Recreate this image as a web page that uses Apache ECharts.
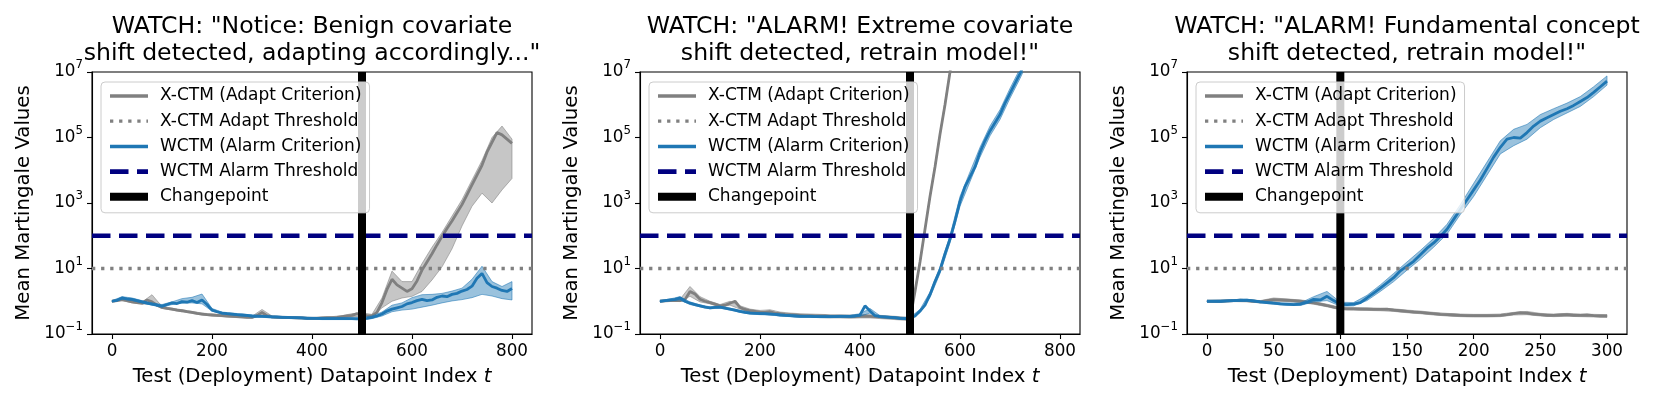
<!DOCTYPE html>
<html>
<head>
<meta charset="utf-8">
<title>WATCH martingale panels</title>
<script src="https://cdn.jsdelivr.net/npm/echarts@6/dist/echarts.min.js"></script>
<style>
  html, body { margin: 0; padding: 0; background: #fff; }
  #chart { width: 1660px; height: 405px; }
</style>
</head>
<body>
<div id="chart"></div>
<script>
// all y values are log10 of the mean martingale (axis labelled 10^k)

// test datapoint index t
const tFine800 = [0,10,20,30,40,50,60,70,80,90,100,110,120,130,140,150,160,170,180,190,200,210,220,230,240,250,260,270,280,290,300,310,320,330,340,350,360,370,380,390,400,410,420,430,440,450,460,470,480,490,500,510,520,530,540,550,560,570,580,590,600,610,620,630,640,650,660,670,680,690,700,710,720,730,740,750,760,770,780,790,800]
const tCoarse800 = [0,20,40,60,80,100,120,140,160,180,200,220,240,260,280,300,320,340,360,380,400,420,440,460,480,500,520,540,560,580,600,620,640,660,680,700,720,740,760,780,800]
const tFine300 = [0,5,10,15,20,25,30,35,40,45,50,55,60,65,70,75,80,85,90,95,100,105,110,115,120,125,130,135,140,145,150,155,160,165,170,175,180,185,190,195,200,205,210,215,220,225,230,235,240,245,250,255,260,265,270,275,280,285,290,295,300]
const tCoarse300 = [0,10,20,30,40,50,60,70,80,90,100,110,120,130,140,150,160,170,180,190,200,210,220,230,240,250,260,270,280,290,300]

const xTicks800 = [0, 200, 400, 600, 800]
const xTicks300 = [0, 50, 100, 150, 200, 250, 300]
const yTicks = [-1, 1, 3, 5, 7]

const adaptThreshold = 1 // 10^1
const alarmThreshold = 2 // 10^2
const changepoints = [500, 500, 100]

// panel 1: benign covariate shift
const p1Xctm = [0.00,0.02,0.05,0.02,-0.02,-0.04,-0.06,0.04,-0.02,-0.12,
  -0.19,-0.22,-0.24,-0.27,-0.29,-0.32,-0.34,-0.37,-0.39,-0.41,
  -0.42,-0.43,-0.44,-0.45,-0.46,-0.47,-0.48,-0.49,-0.49,-0.44,
  -0.34,-0.44,-0.48,-0.49,-0.49,-0.50,-0.50,-0.51,-0.51,-0.52,
  -0.52,-0.52,-0.51,-0.50,-0.50,-0.49,-0.47,-0.45,-0.43,-0.38,
  -0.42,-0.44,-0.45,-0.34,-0.04,0.36,0.67,0.50,0.40,0.30,
  0.38,0.62,0.95,1.20,1.45,1.72,1.98,2.22,2.45,2.70,
  2.95,3.25,3.55,3.85,4.15,4.55,4.85,5.15,5.08,4.95,
  4.82]
const p1XctmLo = [-0.02,0.02,-0.05,-0.09,-0.08,-0.22,-0.27,-0.32,-0.37,-0.42,
  -0.45,-0.47,-0.49,-0.51,-0.52,-0.40,-0.51,-0.52,-0.53,-0.54,
  -0.55,-0.54,-0.53,-0.50,-0.47,-0.46,-0.48,-0.20,0.00,0.10,
  0.15,0.30,0.65,1.05,1.60,2.30,2.90,3.30,3.00,3.40,3.75]
const p1XctmHi = [0.02,0.08,0.02,-0.03,0.20,-0.16,-0.21,-0.26,-0.31,-0.36,
  -0.39,-0.41,-0.43,-0.45,-0.46,-0.25,-0.45,-0.46,-0.47,-0.48,
  -0.49,-0.48,-0.47,-0.44,-0.38,-0.36,-0.40,0.10,0.92,0.60,
  0.60,1.15,1.65,2.10,2.60,3.10,3.70,4.30,5.00,5.35,4.95]
const p1Wctm = [0.00,0.03,0.10,0.07,0.06,0.02,-0.02,-0.06,-0.09,-0.12,
  -0.15,-0.10,-0.05,-0.07,-0.01,-0.03,0.02,-0.04,0.04,-0.10,
  -0.27,-0.32,-0.36,-0.38,-0.39,-0.41,-0.42,-0.43,-0.45,-0.46,
  -0.46,-0.47,-0.48,-0.48,-0.49,-0.49,-0.50,-0.50,-0.51,-0.52,
  -0.52,-0.52,-0.53,-0.53,-0.53,-0.53,-0.53,-0.53,-0.53,-0.54,
  -0.53,-0.52,-0.49,-0.45,-0.39,-0.30,-0.24,-0.20,-0.16,-0.08,
  -0.04,0.02,0.06,0.02,0.04,0.12,0.16,0.14,0.21,0.24,
  0.31,0.36,0.46,0.70,0.85,0.57,0.45,0.40,0.33,0.30,
  0.39]
const p1WctmLo = [-0.02,0.06,0.02,-0.05,-0.12,-0.18,-0.10,-0.06,-0.05,-0.08,
  -0.30,-0.39,-0.42,-0.45,-0.48,-0.49,-0.51,-0.52,-0.53,-0.54,
  -0.55,-0.56,-0.56,-0.56,-0.56,-0.56,-0.53,-0.45,-0.32,-0.27,
  -0.24,-0.18,-0.12,-0.05,0.01,0.05,0.11,0.21,0.16,0.08,0.04]
const p1WctmHi = [0.02,0.14,0.10,0.02,-0.05,-0.10,-0.02,0.08,0.12,0.22,
  -0.22,-0.33,-0.36,-0.39,-0.42,-0.43,-0.45,-0.46,-0.47,-0.48,
  -0.49,-0.50,-0.50,-0.50,-0.50,-0.50,-0.45,-0.33,-0.12,-0.05,
  0.11,0.20,0.21,0.24,0.31,0.40,0.67,1.07,0.60,0.45,0.60]

// panel 2: extreme covariate shift
const p2Xctm = [0.00,0.01,0.02,0.03,0.02,0.05,0.30,0.22,0.06,0.00,
  -0.04,-0.09,-0.14,-0.12,-0.06,0.00,-0.19,-0.25,-0.29,-0.31,
  -0.33,-0.34,-0.32,-0.36,-0.38,-0.40,-0.41,-0.42,-0.43,-0.44,
  -0.44,-0.45,-0.45,-0.45,-0.46,-0.46,-0.46,-0.46,-0.47,-0.47,
  -0.46,-0.45,-0.46,-0.47,-0.48,-0.49,-0.50,-0.51,-0.52,-0.53,
  -0.55,0.30,1.20,2.20,3.20,4.10,5.10,6.00,7.00,8.00,
  null,null,null,null,null,null,null,null,null,null,
  null,null,null,null,null,null,null,null,null,null,
  null]
const p2XctmLo = [-0.02,0.00,-0.01,0.15,-0.02,-0.08,-0.18,-0.12,-0.24,-0.34,
  -0.38,-0.38,-0.43,-0.46,-0.48,-0.49,-0.50,-0.51,-0.51,-0.52,
  -0.51,-0.51,-0.53,-0.55,-0.57,-0.59,1.15,3.15,5.05,6.95,
  null,null,null,null,null,null,null,null,null,null,null]
const p2XctmHi = [0.02,0.05,0.06,0.45,0.14,0.00,-0.10,0.00,-0.14,-0.24,
  -0.28,-0.26,-0.33,-0.36,-0.38,-0.39,-0.40,-0.41,-0.41,-0.42,
  -0.41,-0.41,-0.43,-0.45,-0.47,-0.50,1.25,3.25,5.15,7.05,
  null,null,null,null,null,null,null,null,null,null,null]
const p2Wctm = [0.00,0.02,0.04,0.06,0.10,0.00,-0.06,-0.10,-0.14,-0.18,
  -0.20,-0.19,-0.18,-0.21,-0.24,-0.27,-0.31,-0.34,-0.36,-0.37,
  -0.38,-0.38,-0.39,-0.40,-0.42,-0.43,-0.44,-0.45,-0.46,-0.46,
  -0.46,-0.47,-0.47,-0.47,-0.47,-0.47,-0.46,-0.46,-0.46,-0.45,
  -0.42,-0.14,-0.30,-0.44,-0.47,-0.48,-0.49,-0.50,-0.52,-0.53,
  -0.52,-0.45,-0.30,-0.12,0.20,0.60,0.95,1.45,1.90,2.45,
  3.05,3.50,3.80,4.10,4.55,4.90,5.20,5.45,5.70,6.05,
  6.35,6.65,6.95,7.30,7.60,null,null,null,null,null,
  null]
const p2WctmLo = [-0.02,0.01,0.04,-0.10,-0.17,-0.23,-0.21,-0.27,-0.34,-0.39,
  -0.41,-0.42,-0.45,-0.47,-0.49,-0.49,-0.50,-0.50,-0.49,-0.49,
  -0.46,-0.36,-0.50,-0.52,-0.55,-0.55,-0.35,0.12,0.85,1.78,
  2.90,3.65,4.40,5.05,5.55,6.20,6.80,7.45,null,null,null]
const p2WctmHi = [0.02,0.07,0.14,-0.02,-0.11,-0.17,-0.15,-0.21,-0.28,-0.33,
  -0.35,-0.36,-0.39,-0.41,-0.43,-0.43,-0.44,-0.44,-0.43,-0.43,
  -0.38,-0.22,-0.44,-0.46,-0.49,-0.49,-0.25,0.28,1.05,2.00,
  3.20,3.95,4.70,5.35,5.85,6.50,7.10,7.75,null,null,null]

// panel 3: fundamental concept shift
const p3Xctm = [0.00,0.00,0.00,0.01,0.02,0.03,0.02,0.00,-0.02,0.02,
  0.05,0.04,0.03,0.02,0.00,-0.03,-0.05,-0.09,-0.13,-0.18,
  -0.22,-0.23,-0.23,-0.24,-0.24,-0.25,-0.25,-0.24,-0.27,-0.29,
  -0.31,-0.33,-0.34,-0.36,-0.38,-0.40,-0.41,-0.42,-0.43,-0.44,
  -0.44,-0.44,-0.44,-0.44,-0.43,-0.41,-0.38,-0.35,-0.36,-0.39,
  -0.41,-0.43,-0.43,-0.42,-0.41,-0.43,-0.43,-0.42,-0.44,-0.45,
  -0.45]
const p3XctmLo = [-0.02,-0.03,-0.01,-0.02,-0.05,0.00,-0.01,-0.04,-0.09,-0.17,
  -0.26,-0.27,-0.28,-0.29,-0.31,-0.35,-0.38,-0.42,-0.45,-0.47,
  -0.48,-0.48,-0.47,-0.42,-0.41,-0.45,-0.47,-0.46,-0.47,-0.48,-0.49]
const p3XctmHi = [0.02,0.03,0.05,0.05,0.02,0.10,0.07,0.04,-0.01,-0.09,
  -0.18,-0.19,-0.20,-0.21,-0.23,-0.27,-0.30,-0.34,-0.37,-0.39,
  -0.40,-0.40,-0.39,-0.34,-0.31,-0.37,-0.39,-0.37,-0.39,-0.40,-0.41]
const p3Wctm = [0.00,0.00,0.00,0.01,0.02,0.03,0.03,0.01,-0.02,-0.04,
  -0.06,-0.08,-0.09,-0.10,-0.09,-0.03,0.06,0.04,0.15,0.02,
  -0.09,-0.10,-0.09,-0.04,0.10,0.25,0.40,0.56,0.72,0.93,
  1.07,1.22,1.42,1.62,1.78,1.98,2.20,2.50,2.80,3.10,
  3.40,3.70,4.05,4.40,4.70,4.95,5.00,4.98,5.15,5.35,
  5.50,5.60,5.70,5.80,5.88,5.98,6.10,6.22,6.38,6.55,
  6.72]
const p3WctmLo = [-0.02,-0.03,-0.01,0.00,-0.05,-0.09,-0.13,-0.13,-0.02,0.02,
  -0.15,-0.14,0.02,0.30,0.60,0.95,1.28,1.65,2.05,2.65,
  3.20,3.85,4.50,4.75,4.95,5.30,5.55,5.75,5.95,6.25,6.60]
const p3WctmHi = [0.02,0.03,0.05,0.06,0.01,-0.03,-0.06,-0.05,0.14,0.30,
  -0.03,-0.04,0.18,0.50,0.85,1.20,1.55,1.92,2.35,2.95,
  3.60,4.25,4.90,5.25,5.40,5.70,5.88,6.05,6.25,6.55,6.88]

const titles = [
  'WATCH: "Notice: Benign covariate\nshift detected, adapting accordingly..."',
  'WATCH: "ALARM! Extreme covariate\nshift detected, retrain model!"',
  'WATCH: "ALARM! Fundamental concept\nshift detected, retrain model!"'
]

const FONT = 'DejaVu Sans'
const GRAY = '#808080'
const BLUE = '#1f77b4'
const NAVY = '#000080'
const names = ['X-CTM (Adapt Criterion)', 'X-CTM Adapt Threshold', 'WCTM (Alarm Criterion)', 'WCTM Alarm Threshold', 'Changepoint']
// handle thickness for each legend entry
const legendWidths = [3.5, 3.3, 3.5, 4.7, 8]

const panels = [
  {t: tFine800, tb: tCoarse800, x: p1Xctm, xLo: p1XctmLo, xHi: p1XctmHi, w: p1Wctm, wLo: p1WctmLo, wHi: p1WctmHi, xMin: -40, xMax: 840, ticks: xTicks800, left: 92},
  {t: tFine800, tb: tCoarse800, x: p2Xctm, xLo: p2XctmLo, xHi: p2XctmHi, w: p2Wctm, wLo: p2WctmLo, wHi: p2WctmHi, xMin: -40, xMax: 840, ticks: xTicks800, left: 640},
  {t: tFine300, tb: tCoarse300, x: p3Xctm, xLo: p3XctmLo, xHi: p3XctmHi, w: p3Wctm, wLo: p3WctmLo, wHi: p3WctmHi, xMin: -15, xMax: 315, ticks: xTicks300, left: 1187}
]
const PLOT_TOP = 72
const PLOT_W = 440
const PLOT_H = 262

function pairs (ts, vs) {
  const out = []
  ts.forEach((t, i) => { if (vs[i] != null) out.push([t, vs[i]]) })
  return out
}

// shaded min/max band drawn as one polygon through the axis scales
function band (idx, ts, lo, hi, fill, stroke, z) {
  return {
    type: 'custom',
    xAxisIndex: idx,
    yAxisIndex: idx,
    coordinateSystem: 'cartesian2d',
    data: [[ts[0], lo[0]]],
    clip: true,
    silent: true,
    z: z,
    renderItem: function (params, api) {
      const pts = []
      ts.forEach((t, i) => { if (hi[i] != null) pts.push(api.coord([t, hi[i]])) })
      for (let i = ts.length - 1; i >= 0; i--) {
        if (lo[i] != null) pts.push(api.coord([ts[i], lo[i]]))
      }
      return {type: 'polygon', shape: {points: pts}, style: {fill: fill, stroke: stroke, lineWidth: 1}}
    }
  }
}

function supLabel (v) {
  const e = v < 0 ? '\u2212' + (-v) : String(v)
  return '{b|10}{s|' + e + '}'
}

const grid = []
const xAxis = []
const yAxis = []
const series = []
const legend = []
const graphic = []

panels.forEach((p, i) => {
  grid.push({left: p.left, top: PLOT_TOP, width: PLOT_W, height: PLOT_H, show: true, borderColor: '#000', borderWidth: 1.1, backgroundColor: 'transparent'})
  xAxis.push({
    type: 'value', gridIndex: i, min: p.xMin, max: p.xMax,
    splitLine: {show: false},
    axisLine: {show: true, onZero: false, lineStyle: {color: '#000', width: 1.1}},
    axisTick: {show: true, length: 5, customValues: p.ticks, lineStyle: {color: '#000', width: 1.1}},
    axisLabel: {customValues: p.ticks, margin: 9, color: '#000', fontFamily: FONT, fontSize: 16.8},
    name: '{n|Test (Deployment) Datapoint Index }{i|t}',
    nameLocation: 'middle', nameGap: 33,
    nameTextStyle: {rich: {
      n: {fontFamily: FONT, fontSize: 19.7, color: '#000'},
      i: {fontFamily: FONT, fontSize: 19.7, fontStyle: 'italic', color: '#000'}
    }}
  })
  yAxis.push({
    type: 'value', gridIndex: i, min: -1, max: 7,
    splitLine: {show: false},
    axisLine: {show: true, onZero: false, lineStyle: {color: '#000', width: 1.1}},
    axisTick: {show: true, length: 5, customValues: yTicks, lineStyle: {color: '#000', width: 1.1}},
    axisLabel: {
      customValues: yTicks, margin: 9, formatter: supLabel,
      rich: {
        b: {fontFamily: FONT, fontSize: 16.8, color: '#000', lineHeight: 26},
        s: {fontFamily: FONT, fontSize: 11.8, color: '#000', lineHeight: 14, verticalAlign: 'top'}
      }
    },
    name: 'Mean Martingale Values', nameLocation: 'middle', nameGap: 58,
    nameTextStyle: {fontFamily: FONT, fontSize: 19.7, color: '#000'}
  })

  series.push(band(i, p.tb, p.xLo, p.xHi, 'rgba(128,128,128,0.45)', 'rgba(128,128,128,0.55)', 1))
  series.push({
    name: names[0], type: 'line', xAxisIndex: i, yAxisIndex: i, data: pairs(p.t, p.x),
    symbol: 'none', z: 2, lineStyle: {color: GRAY, width: 2.8}, itemStyle: {color: GRAY}
  })
  series.push(band(i, p.tb, p.wLo, p.wHi, 'rgba(31,119,180,0.45)', 'rgba(31,119,180,0.55)', 3))
  series.push({
    name: names[2], type: 'line', xAxisIndex: i, yAxisIndex: i, data: pairs(p.t, p.w),
    symbol: 'none', z: 4, lineStyle: {color: BLUE, width: 2.8}, itemStyle: {color: BLUE}
  })
  series.push({
    name: names[1], type: 'line', xAxisIndex: i, yAxisIndex: i,
    data: [[p.xMin, adaptThreshold], [p.xMax, adaptThreshold]],
    symbol: 'none', z: 5, lineStyle: {color: GRAY, width: 3.3, type: [3.3, 5.8]}, itemStyle: {color: GRAY}
  })
  series.push({
    name: names[3], type: 'line', xAxisIndex: i, yAxisIndex: i,
    data: [[p.xMin, alarmThreshold], [p.xMax, alarmThreshold]],
    symbol: 'none', z: 6, lineStyle: {color: NAVY, width: 4.7, type: [18.5, 8.5]}, itemStyle: {color: NAVY}
  })
  series.push({
    name: names[4], type: 'line', xAxisIndex: i, yAxisIndex: i,
    data: [[changepoints[i], -1], [changepoints[i], 7]],
    symbol: 'none', z: 7, lineStyle: {color: '#000', width: 8}, itemStyle: {color: '#000'}
  })

  legend.push({
    data: names.map((n, k) => ({name: n, itemStyle: {opacity: 0}, lineStyle: {width: legendWidths[k]}})),
    orient: 'vertical', left: p.left + 9, top: PLOT_TOP + 10,
    itemWidth: 38, itemHeight: 17, itemGap: 8.2, padding: [5.5, 8, 7.5, 5],
    backgroundColor: 'rgba(255,255,255,0.8)', borderColor: '#cccccc', borderWidth: 1, borderRadius: 4,
    selectedMode: false, z: 20,
    textStyle: {fontFamily: FONT, fontSize: 17, color: '#000', padding: [0, 0, 0, 7]}
  })

  graphic.push({
    type: 'text', x: p.left + PLOT_W / 2, y: 13, z: 30,
    style: {text: titles[i], align: 'center', verticalAlign: 'top', fontFamily: FONT, fontSize: 23.6, lineHeight: 27, fill: '#000'}
  })
})

const chart = echarts.init(document.getElementById('chart'))
chart.setOption({
  animation: false,
  backgroundColor: '#fff',
  grid: grid,
  xAxis: xAxis,
  yAxis: yAxis,
  legend: legend,
  graphic: graphic,
  series: series
})
</script>
</body>
</html>
